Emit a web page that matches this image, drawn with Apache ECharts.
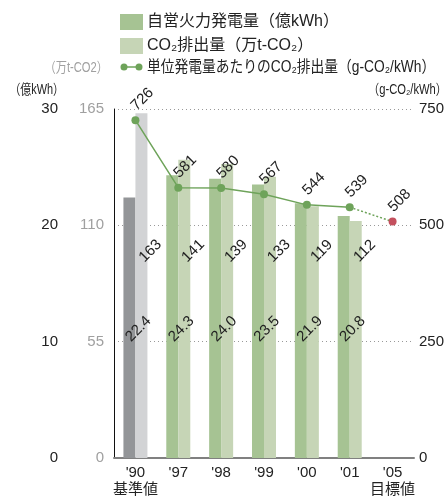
<!DOCTYPE html>
<html>
<head>
<meta charset="utf-8">
<script src="https://cdn.jsdelivr.net/npm/echarts@6/dist/echarts.min.js"></script>
<style>
  html, body { margin: 0; padding: 0; background: #fff; }
  #chart { width: 448px; height: 498px; }
</style>
</head>
<body>
<div id="chart"></div>
<script>
// Fiscal years ('05 is the target year)
const categories = ["'90", "'97", "'98", "'99", "'00", "'01", "'05"];
const subLabels = { "'90": '基準値', "'05": '目標値' };
// In-house thermal power generation (100 million kWh)
const generation = [22.4, 24.3, 24.0, 23.5, 21.9, 20.8, null];
// CO2 emissions (10,000 t-CO2)
const emissions = [163, 141, 139, 133, 119, 112, null];
// CO2 emissions per unit of generation (g-CO2/kWh)
const intensity = [726, 581, 580, 567, 544, 539, null];
const intensityTarget = 508;

// Axis ticks
const genAxis = { min: 0, max: 30, interval: 10 };
const co2Axis = { min: 0, max: 165, interval: 55 };
const intAxis = { min: 0, max: 750, interval: 250 };

const FONT = '"Liberation Sans", "Noto Sans CJK JP", sans-serif';
const GREEN_DARK = '#a6c393';
const GREEN_LIGHT = '#c6d5b6';
const GRAY_DARK = '#939598';
const GRAY_LIGHT = '#d2d3d5';
const LINE_GREEN = '#6ea35a';
const TARGET_RED = '#c4505e';
const LABEL_ROT = 45;

const chart = echarts.init(document.getElementById('chart'));

const genData = generation.map((v, i) => i === 0 ? { value: v, itemStyle: { color: GRAY_DARK } } : v);
const co2Data = emissions.map((v, i) => i === 0 ? { value: v, itemStyle: { color: GRAY_LIGHT } } : v);

const lastIdx = intensity.length - 2;
const targetData = categories.map((c, i) => {
  if (i === lastIdx) return { value: intensity[lastIdx], symbol: 'none', label: { show: false } };
  if (i === categories.length - 1) return { value: intensityTarget, itemStyle: { color: TARGET_RED } };
  return '-';
});

const valueLabel = {
  show: true, color: '#222', fontSize: 15, fontFamily: FONT,
  align: 'center', verticalAlign: 'middle'
};

function barLabelAt(dx, dyFromBottom) {
  return function (p) {
    return {
      x: p.rect.x + p.rect.width / 2 + dx,
      y: p.rect.y + p.rect.height - dyFromBottom,
      align: 'center', verticalAlign: 'middle', rotate: LABEL_ROT
    };
  };
}
function pointLabel(p) {
  return {
    x: p.rect.x + p.rect.width / 2 + 7,
    y: p.rect.y + p.rect.height / 2 - 21,
    align: 'center', verticalAlign: 'middle', rotate: LABEL_ROT
  };
}

function legendText(x, y, text, size, sx) {
  return {
    type: 'text', x: x, y: y, scaleX: sx || 1,
    style: { text: text, fontSize: size, fontFamily: FONT, fill: '#222', align: 'left', verticalAlign: 'middle' }
  };
}

chart.setOption({
  animation: false,
  textStyle: { fontFamily: FONT },
  grid: { left: 114, right: 34, top: 109, bottom: 35 },
  xAxis: {
    type: 'category',
    data: categories,
    axisLine: { lineStyle: { color: '#808080', width: 2 } },
    axisTick: { show: false },
    axisLabel: {
      interval: 0, color: '#222', fontSize: 15, margin: 6, lineHeight: 17,
      formatter: v => subLabels[v] ? v + '\n' + subLabels[v] : v
    }
  },
  yAxis: [
    {
      type: 'value', position: 'left', offset: 46, ...genAxis,
      axisLine: { show: false },
      axisTick: { show: false },
      axisLabel: { color: '#222', fontSize: 15, margin: 10 },
      splitLine: { show: true, lineStyle: { color: '#999', type: [1, 3], width: 1 } }
    },
    {
      type: 'value', position: 'left', ...co2Axis,
      axisLine: { show: true, lineStyle: { color: '#111', width: 1 } },
      axisTick: { show: false },
      axisLabel: { color: '#a0a0a0', fontSize: 15, margin: 10 },
      splitLine: { show: false }
    },
    {
      type: 'value', position: 'right', ...intAxis,
      axisLine: { show: false }, axisTick: { show: false },
      axisLabel: { color: '#222', fontSize: 15, margin: 5 },
      splitLine: { show: false }
    }
  ],
  series: [
    {
      name: '自営火力発電量', type: 'bar', yAxisIndex: 0, data: genData,
      barWidth: 12, barGap: '0%', itemStyle: { color: GREEN_DARK },
      label: { ...valueLabel, formatter: p => p.value.toFixed(1) },
      labelLayout: barLabelAt(9, 129)
    },
    {
      name: 'CO₂排出量', type: 'bar', yAxisIndex: 1, data: co2Data,
      barWidth: 12, barGap: '0%', itemStyle: { color: GREEN_LIGHT },
      label: { ...valueLabel },
      labelLayout: barLabelAt(9, 207)
    },
    {
      name: '単位発電量あたりのCO₂排出量', type: 'line', yAxisIndex: 2, data: intensity,
      symbol: 'circle', symbolSize: 8, z: 5,
      lineStyle: { color: LINE_GREEN, width: 1.5 },
      itemStyle: { color: LINE_GREEN },
      label: { ...valueLabel },
      labelLayout: pointLabel
    },
    {
      name: '目標値', type: 'line', yAxisIndex: 2, data: targetData,
      symbol: 'circle', symbolSize: 8, z: 4,
      lineStyle: { color: LINE_GREEN, width: 1.5, type: [2, 2] },
      itemStyle: { color: LINE_GREEN },
      label: { ...valueLabel },
      labelLayout: pointLabel
    }
  ],
  graphic: [
    { type: 'rect', shape: { x: 120, y: 14, width: 23, height: 16 }, style: { fill: GREEN_DARK } },
    legendText(147, 22, '自営火力発電量（億kWh）', 16),
    { type: 'rect', shape: { x: 120, y: 38, width: 23, height: 16 }, style: { fill: GREEN_LIGHT } },
    legendText(147, 46, 'CO₂排出量（万t-CO₂）', 16),
    { type: 'line', shape: { x1: 123, y1: 67, x2: 140, y2: 67 }, style: { stroke: LINE_GREEN, lineWidth: 1.5 } },
    { type: 'circle', shape: { cx: 124, cy: 67, r: 3.5 }, style: { fill: LINE_GREEN } },
    { type: 'circle', shape: { cx: 139, cy: 67, r: 3.5 }, style: { fill: LINE_GREEN } },
    legendText(147, 68, '単位発電量あたりのCO₂排出量（g-CO₂/kWh）', 16, 0.86),
    {
      type: 'text', x: 108, y: 68, scaleX: 0.8,
      style: { text: '（万t-CO2）', fontSize: 14, fontFamily: FONT, fill: '#a0a0a0', align: 'right', verticalAlign: 'middle' }
    },
    {
      type: 'text', x: 64, y: 90, scaleX: 0.78,
      style: { text: '（億kWh）', fontSize: 14, fontFamily: FONT, fill: '#222', align: 'right', verticalAlign: 'middle' }
    },
    {
      type: 'text', x: 447, y: 90, scaleX: 0.8,
      style: { text: '（g-CO₂/kWh）', fontSize: 14, fontFamily: FONT, fill: '#222', align: 'right', verticalAlign: 'middle' }
    }
  ]
});
</script>
</body>
</html>
